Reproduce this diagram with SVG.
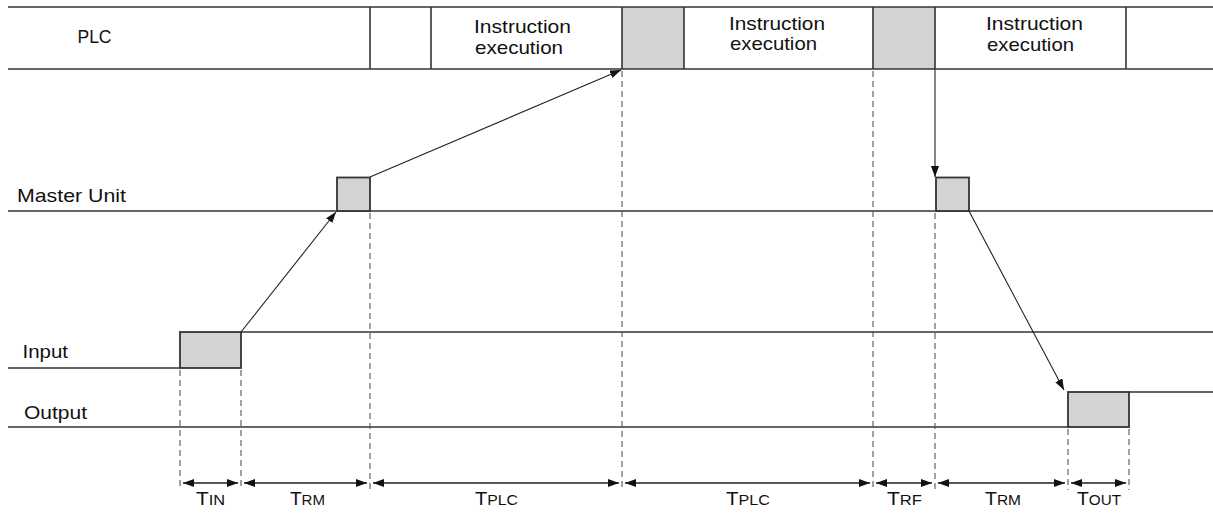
<svg xmlns="http://www.w3.org/2000/svg" width="1213" height="518" viewBox="0 0 1213 518">
<style>
.ln{stroke:#333;stroke-width:1.6;fill:none}
.bx{stroke:#333;stroke-width:1.8;fill:#d3d3d3}
.dash{stroke:#555;stroke-width:1.1;stroke-dasharray:6,4;fill:none}
.cn{stroke:#222;stroke-width:1.1;fill:none}
.dim{stroke:#222;stroke-width:1.6;fill:none}
.t{font-family:"Liberation Sans",Arial,sans-serif;font-size:19px;fill:#111}
.tb{font-family:"Liberation Sans",Arial,sans-serif;font-size:19px;fill:#111}
.sm{font-size:15px}
</style>
<defs>
<marker id="ah" markerUnits="userSpaceOnUse" markerWidth="12" markerHeight="10" refX="11" refY="4" orient="auto">
<path d="M0,0 L11,4 L0,8 Z" fill="#111"/>
</marker>
<marker id="ahs" markerUnits="userSpaceOnUse" markerWidth="12" markerHeight="10" refX="11" refY="4" orient="auto-start-reverse">
<path d="M0,0 L11,4 L0,8 Z" fill="#111"/>
</marker>
</defs>

<g id="plc">
<rect x="622" y="7" width="62" height="62" fill="#d3d3d3"/>
<rect x="873" y="7" width="62" height="62" fill="#d3d3d3"/>
<line class="ln" x1="8" y1="7" x2="1213" y2="7"/>
<line class="ln" x1="8" y1="69" x2="1213" y2="69"/>
<line class="ln" x1="370" y1="7" x2="370" y2="69"/>
<line class="ln" x1="431" y1="7" x2="431" y2="69"/>
<line class="ln" x1="622" y1="7" x2="622" y2="69"/>
<line class="ln" x1="684" y1="7" x2="684" y2="69"/>
<line class="ln" x1="873" y1="7" x2="873" y2="69"/>
<line class="ln" x1="935" y1="7" x2="935" y2="69"/>
<line class="ln" x1="1126" y1="7" x2="1126" y2="69"/>
<text class="t" x="77.5" y="43" font-size="16" textLength="34" lengthAdjust="spacingAndGlyphs">PLC</text>
<text class="t" x="474" y="33" textLength="97" lengthAdjust="spacingAndGlyphs">Instruction</text>
<text class="t" x="475" y="53.5" textLength="88" lengthAdjust="spacingAndGlyphs">execution</text>
<text class="t" x="729" y="29.5" textLength="96" lengthAdjust="spacingAndGlyphs">Instruction</text>
<text class="t" x="730" y="50" textLength="87" lengthAdjust="spacingAndGlyphs">execution</text>
<text class="t" x="986" y="29.5" textLength="97" lengthAdjust="spacingAndGlyphs">Instruction</text>
<text class="t" x="987" y="50.5" textLength="87" lengthAdjust="spacingAndGlyphs">execution</text>
</g>

<g id="master-unit">
<line class="ln" x1="8" y1="211" x2="1213" y2="211"/>
<rect class="bx" x="337" y="177.5" width="33" height="33.5"/>
<rect class="bx" x="936" y="177.5" width="33" height="33.5"/>
<text class="t" x="17" y="202" textLength="109" lengthAdjust="spacingAndGlyphs">Master Unit</text>
</g>

<g id="input">
<polyline class="ln" points="8,368 180,368"/>
<polyline class="ln" points="241,332 1213,332"/>
<rect class="bx" x="180" y="332" width="61" height="36"/>
<text class="t" x="22.5" y="357.5" textLength="45.5" lengthAdjust="spacingAndGlyphs">Input</text>
</g>

<g id="output">
<polyline class="ln" points="8,427 1068,427"/>
<polyline class="ln" points="1129,392 1213,392"/>
<rect class="bx" x="1068" y="392" width="61" height="35"/>
<text class="t" x="24" y="419" textLength="63" lengthAdjust="spacingAndGlyphs">Output</text>
</g>

<g id="guides">
<line class="dash" x1="180" y1="370" x2="180" y2="490"/>
<line class="dash" x1="241" y1="370" x2="241" y2="490"/>
<line class="dash" x1="370" y1="213" x2="370" y2="490"/>
<line class="dash" x1="622" y1="71" x2="622" y2="490"/>
<line class="dash" x1="873" y1="71" x2="873" y2="490"/>
<line class="dash" x1="935" y1="213" x2="935" y2="490"/>
<line class="dash" x1="1068" y1="429" x2="1068" y2="490"/>
<line class="dash" x1="1129" y1="429" x2="1129" y2="490"/>
</g>

<g id="connectors">
<line class="cn" x1="241" y1="332" x2="336" y2="212" marker-end="url(#ah)"/>
<line class="cn" x1="370" y1="177" x2="621" y2="70" marker-end="url(#ah)"/>
<line class="cn" x1="935" y1="69" x2="935" y2="177" marker-end="url(#ah)"/>
<line class="cn" x1="969" y1="211" x2="1064" y2="390" marker-end="url(#ah)"/>
</g>

<g id="timing">
<line class="dim" x1="183" y1="483" x2="238" y2="483" marker-start="url(#ahs)" marker-end="url(#ah)"/>
<line class="dim" x1="244" y1="483" x2="367" y2="483" marker-start="url(#ahs)" marker-end="url(#ah)"/>
<line class="dim" x1="373" y1="483" x2="619" y2="483" marker-start="url(#ahs)" marker-end="url(#ah)"/>
<line class="dim" x1="625" y1="483" x2="870" y2="483" marker-start="url(#ahs)" marker-end="url(#ah)"/>
<line class="dim" x1="876" y1="483" x2="932" y2="483" marker-start="url(#ahs)" marker-end="url(#ah)"/>
<line class="dim" x1="938" y1="483" x2="1065" y2="483" marker-start="url(#ahs)" marker-end="url(#ah)"/>
<line class="dim" x1="1071" y1="483" x2="1126" y2="483" marker-start="url(#ahs)" marker-end="url(#ah)"/>
<text class="tb" x="196" y="505" textLength="29" lengthAdjust="spacingAndGlyphs">T<tspan class="sm">IN</tspan></text>
<text class="tb" x="290" y="505" textLength="35" lengthAdjust="spacingAndGlyphs">T<tspan class="sm">RM</tspan></text>
<text class="tb" x="475" y="505" textLength="43" lengthAdjust="spacingAndGlyphs">T<tspan class="sm">PLC</tspan></text>
<text class="tb" x="726" y="505" textLength="44" lengthAdjust="spacingAndGlyphs">T<tspan class="sm">PLC</tspan></text>
<text class="tb" x="887" y="505" textLength="35" lengthAdjust="spacingAndGlyphs">T<tspan class="sm">RF</tspan></text>
<text class="tb" x="985" y="505" textLength="36" lengthAdjust="spacingAndGlyphs">T<tspan class="sm">RM</tspan></text>
<text class="tb" x="1077" y="505" textLength="44" lengthAdjust="spacingAndGlyphs">T<tspan class="sm">OUT</tspan></text>
</g>
</svg>
